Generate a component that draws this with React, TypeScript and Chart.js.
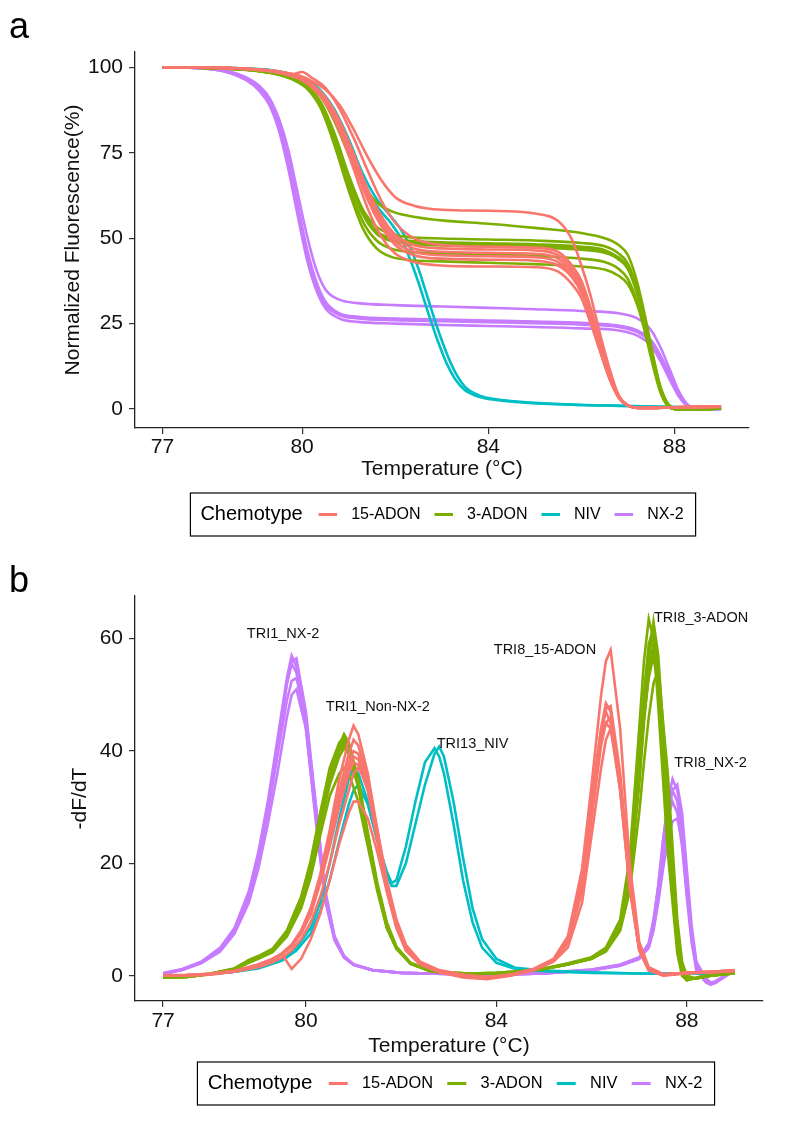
import React, { useEffect, useRef } from "react";
import { Chart, registerables } from "chart.js";

Chart.register(...registerables);

const FONT = "'Liberation Sans', Arial, Helvetica, sans-serif";

const CHEMOTYPES = ["15-ADON", "3-ADON", "NIV", "NX-2"];
const COLORS = ["#F8766D", "#7CAE00", "#00BFC4", "#C77CFF"];

const X_TICKS = [77, 80, 84, 88];
const Y_TICKS_A = [0, 25, 50, 75, 100];
const Y_TICKS_B = [0, 20, 40, 60];

// ---------- Panel a: normalized fluorescence (%) ----------
const A_T_15ADON = [77.0, 78.0, 78.8, 79.4, 79.8, 80.0, 80.2, 80.5, 80.8, 81.1, 81.4, 81.7, 82.0, 82.4, 83.0, 84.0, 85.0, 85.5, 85.8, 86.0, 86.2, 86.4, 86.6, 86.8, 87.0, 87.3, 88.0, 89.0];
const A_15ADON_1 = [100, 99.9, 99.6, 99, 98, 97.3, 96, 93.5, 89, 82, 74, 67, 62, 59.5, 58.3, 58, 57.2, 55, 49.5, 42, 33, 22, 12, 4, 1, 0.3, 0.5, 0.8];
const A_15ADON_2 = [100, 99.9, 99.5, 98.7, 97.3, 96.2, 94.2, 89.5, 81.5, 70.5, 59, 50.5, 45.5, 43, 42, 41.7, 41.5, 40.2, 36.5, 32.5, 25, 17, 9, 3.5, 1, 0.3, 0.5, 0.7];
const A_15ADON_3 = [100, 99.9, 99.5, 98.8, 97.6, 96.8, 95.2, 91.3, 84.5, 75, 64.5, 56.5, 51, 48, 47, 46.7, 46.4, 45, 41, 36.5, 28.5, 19, 10, 3.8, 1.1, 0.3, 0.5, 0.7];
const A_15ADON_4 = [100, 99.9, 99.5, 98.8, 97.6, 96.7, 95, 91, 84, 74, 63.5, 55.5, 50, 47, 46, 45.7, 45.4, 44, 40, 35.5, 27.5, 18.5, 9.8, 3.6, 1, 0.3, 0.5, 0.7];
const A_15ADON_5 = [100, 99.9, 99.5, 98.7, 97.5, 96.5, 94.8, 90.6, 83.3, 73, 62.5, 54.5, 49, 46, 45, 44.7, 44.4, 43, 39, 34.5, 26.5, 17.5, 9.2, 3.4, 1, 0.3, 0.5, 0.7];
const A_15ADON_6 = [100, 99.9, 99.5, 98.7, 97.4, 96.4, 94.6, 90.2, 82.7, 72.3, 61.5, 53.5, 48, 45, 44, 43.7, 43.4, 42, 38.5, 34, 26, 17, 9, 3.3, 1, 0.3, 0.5, 0.7];
const A_15ADON_7 = [100, 99.9, 99.6, 99, 98, 98.6, 97, 94, 88, 79.5, 70, 61, 54.5, 50, 48, 47.5, 47.2, 46, 42, 37.5, 29.5, 20, 10.5, 4, 1.1, 0.3, 0.5, 0.7];

const A_T_3ADON = [77.0, 78.0, 78.8, 79.4, 79.8, 80.1, 80.4, 80.7, 81.0, 81.3, 81.6, 81.9, 82.3, 83.0, 84.0, 85.0, 86.0, 86.5, 86.8, 87.0, 87.2, 87.4, 87.55, 87.7, 87.85, 88.0, 88.3, 89.0];
const A_3ADON_1 = [100, 99.8, 99.4, 98.6, 97.3, 95.5, 91.5, 84, 74.5, 66, 60.5, 58, 56.5, 55.2, 54.2, 53, 51.5, 50, 48, 45, 37, 25, 15, 6, 1.2, 0, -0.2, 0.2];
const A_3ADON_2 = [100, 99.8, 99.3, 98.3, 96.8, 94.6, 89.8, 80.5, 68.5, 58.5, 53.3, 51.2, 50.3, 49.9, 49.6, 49.3, 48.6, 47.6, 45.5, 42.5, 35, 23.5, 14, 5.5, 1.2, 0, -0.2, 0.2];
const A_3ADON_3 = [100, 99.8, 99.3, 98.2, 96.6, 94.2, 89, 79.3, 67.3, 57.5, 52, 50, 49.2, 48.8, 48.5, 48.2, 47.5, 46.5, 44.3, 41.5, 34, 23, 13.5, 5.5, 1, 0, -0.2, 0.2];
const A_3ADON_4 = [100, 99.8, 99.3, 98.3, 96.7, 94.4, 89.3, 79.8, 67.8, 57.6, 51.9, 49.7, 48.8, 48.4, 48.1, 47.8, 47.1, 46.1, 44, 41, 33.5, 22.5, 13, 5, 1, 0, -0.2, 0.2];
const A_3ADON_5 = [100, 99.8, 99.3, 98.2, 96.6, 94.3, 89.2, 79.5, 67.3, 57, 51.3, 49.2, 48.3, 47.9, 47.6, 47.3, 46.6, 45.7, 43.8, 41, 34, 23.5, 14.5, 6.5, 1.8, 0.2, -0.2, 0.2];
const A_3ADON_6 = [100, 99.8, 99.3, 98.2, 96.5, 94, 88.5, 78, 65.5, 55, 49.3, 47, 46, 45.6, 45.2, 44.8, 44, 43, 41, 38, 31, 20.5, 12, 4.8, 1, 0, -0.2, 0.2];
const A_3ADON_7 = [100, 99.8, 99.2, 98.1, 96.4, 93.8, 88, 77, 64, 53, 47, 44.6, 43.6, 43.2, 42.8, 42.4, 41.7, 40.8, 39, 36.5, 30.5, 21.5, 13.5, 6, 1.5, 0, -0.2, 0.2];

const A_T_NIV = [77.0, 78.0, 78.8, 79.4, 79.8, 80.1, 80.4, 80.7, 81.0, 81.3, 81.6, 81.9, 82.1, 82.3, 82.5, 82.7, 82.9, 83.1, 83.3, 83.5, 83.8, 84.2, 85.0, 86.0, 87.0, 88.0, 89.0];
const A_NIV_1 = [100, 99.9, 99.6, 99, 97.8, 96, 92.5, 86, 76.5, 66.5, 59.5, 54.5, 50.5, 44.5, 37, 28.5, 20.5, 13.5, 8.5, 5.5, 3.6, 2.6, 1.7, 1.2, 0.9, 0.6, 0.4];
const A_NIV_2 = [100, 99.9, 99.6, 99, 97.9, 96.3, 93.2, 87.5, 79, 69, 61.5, 56.5, 53, 48, 41, 32.5, 24, 16.5, 10.5, 6.5, 4, 2.8, 1.8, 1.2, 0.9, 0.6, 0.4];

const A_T_NX2 = [77.0, 77.5, 78.0, 78.4, 78.8, 79.1, 79.3, 79.5, 79.7, 79.9, 80.1, 80.3, 80.5, 80.8, 81.2, 82.0, 83.0, 84.0, 85.0, 86.0, 86.8, 87.2, 87.5, 87.7, 87.9, 88.1, 88.3, 88.6, 89.0];
const A_NX2_1 = [100, 99.9, 99.5, 98.6, 96.5, 93.3, 89.5, 82.5, 72, 58.5, 45.5, 36, 30.5, 27.5, 26.5, 26, 25.7, 25.4, 25.1, 24.7, 24, 22.5, 19.5, 15, 9.5, 4, 0.8, 0, 0];
const A_NX2_2 = [100, 99.9, 99.5, 98.5, 96.2, 92.8, 88.8, 81.5, 70.5, 57, 44, 35, 29.5, 26.5, 25.5, 25, 24.6, 24.3, 24, 23.6, 23, 21.5, 18.5, 14, 8.5, 3.5, 0.7, 0, 0];
const A_NX2_3 = [100, 99.9, 99.6, 98.8, 96.8, 93.8, 90.2, 83.5, 73.5, 60, 47, 37.5, 31.5, 28, 27, 26.5, 26.2, 25.9, 25.6, 25.2, 24.4, 23, 20, 15.5, 10, 4.5, 1, 0, 0];
const A_NX2_4 = [100, 99.9, 99.6, 98.7, 96.6, 93.6, 89.9, 83, 72.8, 59.5, 46.5, 37, 31, 27.8, 26.8, 26.3, 26, 25.7, 25.4, 25, 24.3, 22.8, 20, 15.5, 10, 4.5, 1, 0.1, 0];
const A_NX2_5 = [100, 99.9, 99.6, 98.9, 97, 94.3, 91, 85, 76, 63.5, 51, 41, 35, 32, 31, 30.4, 30, 29.6, 29.2, 28.7, 28, 26.5, 23, 18, 11.5, 5, 1, 0.1, 0];

// ---------- Panel b: -dF/dT ----------
const B_T_15ADON = [77.0, 77.5, 78.0, 78.5, 79.0, 79.3, 79.5, 79.7, 79.9, 80.1, 80.3, 80.5, 80.7, 80.9, 81.0, 81.1, 81.3, 81.5, 81.7, 81.9, 82.1, 82.4, 82.8, 83.3, 83.8, 84.3, 84.8, 85.2, 85.5, 85.8, 86.0, 86.2, 86.3, 86.4, 86.6, 86.8, 87.0, 87.2, 87.5, 88.0, 88.5, 89.0];
const B_15ADON_1 = [0, 0.1, 0.3, 0.7, 1.5, 2.4, 3.2, 4.5, 6.5, 9.5, 14, 20, 27, 33, 36, 37, 34, 26, 17, 10, 5.5, 2.5, 1, 0.2, -0.3, 0.2, 1.3, 3, 7, 19, 34, 50, 56, 58, 44, 20, 6, 1.5, 0.3, 0.5, 0.7, 0.9];
const B_15ADON_2 = [0, 0.1, 0.3, 0.8, 2, 3, 4, 5.5, 8, 12, 18, 26, 35, 42, 44.5, 43, 36, 26, 16, 9, 4.5, 2, 0.6, -0.3, -0.6, 0, 1, 2.5, 5, 13, 25, 37, 42, 44, 35, 17, 5, 1, 0, 0.4, 0.6, 0.8];
const B_15ADON_3 = [0, 0, 0.2, 0.7, 1.8, 2.8, 3.8, 5.2, 7.5, 11, 17, 25, 33, 39.5, 42, 41, 35, 25.5, 16, 9, 4.8, 2.1, 0.8, 0, -0.4, 0.1, 1.1, 2.7, 6, 16, 30, 44, 48.5, 47, 34, 16, 4.5, 1, 0.2, 0.5, 0.6, 0.9];
const B_15ADON_4 = [0.1, 0.1, 0.3, 0.8, 1.9, 2.9, 3.9, 5.4, 7.8, 11.5, 17, 24, 31.5, 38, 40, 39.5, 34, 25, 16, 9, 4.8, 2.2, 0.9, 0.1, -0.3, 0.2, 1.2, 2.8, 6.2, 17, 31, 43, 47.5, 48, 36, 17, 5, 1.2, 0.2, 0.5, 0.7, 0.9];
const B_15ADON_5 = [0, 0.1, 0.4, 0.9, 2, 3, 4, 5.5, 8, 12, 17.5, 24.5, 31, 37, 39, 38.5, 33, 24, 15, 8.5, 4.5, 2, 0.8, 0, -0.4, 0.1, 1.2, 2.9, 6.5, 18, 32, 44, 47, 45, 33, 15.5, 4.5, 1, 0.1, 0.5, 0.7, 0.8];
const B_15ADON_6 = [0, 0, 0.3, 0.8, 1.9, 2.9, 3.9, 5.3, 7.6, 11, 16.5, 23, 30, 36, 38, 37.5, 33, 25, 16, 9, 4.8, 2.1, 0.8, 0, -0.3, 0.1, 1.1, 2.6, 5.8, 15, 28, 41, 45, 46, 35, 17, 5, 1.2, 0.2, 0.5, 0.7, 1];
const B_15ADON_7 = [0, 0.1, 0.3, 0.8, 1.9, 3, 3.8, 1.2, 3, 6.5, 11, 17, 23.5, 29, 31, 31, 28, 22, 15, 9, 4.8, 2.1, 0.8, 0, -0.3, 0.1, 1.2, 2.8, 6, 16, 30, 42, 45, 44, 33, 16, 4.8, 1, 0.1, 0.5, 0.7, 0.9];

const B_T_3ADON = [77.0, 77.5, 78.0, 78.5, 78.8, 79.0, 79.3, 79.6, 79.9, 80.1, 80.3, 80.5, 80.7, 80.8, 80.9, 81.1, 81.3, 81.5, 81.7, 81.9, 82.2, 82.6, 83.0, 83.5, 84.0, 84.5, 85.0, 85.5, 86.0, 86.3, 86.6, 86.8, 87.0, 87.1, 87.2, 87.3, 87.4, 87.6, 87.8, 87.9, 88.0, 88.2, 88.5, 89.0];
const B_3ADON_1 = [-0.3, -0.2, 0.3, 1.1, 2.3, 3, 4.2, 7, 12, 17.5, 25, 32, 36, 37, 36, 31, 23, 15, 8.5, 4.8, 2.1, 0.9, 0.5, 0.4, 0.5, 0.8, 1.3, 2.2, 3.3, 5, 10, 21, 44, 56, 63.5, 60, 48, 22, 4, 0, -0.8, -0.3, 0.1, 0.5];
const B_3ADON_2 = [-0.3, -0.2, 0.3, 1.2, 2.5, 3.2, 4.5, 7.5, 13, 19, 27, 35, 40, 41, 40, 34, 25, 16, 9, 5, 2.2, 0.9, 0.5, 0.4, 0.4, 0.7, 1.2, 2, 3, 4.5, 8.5, 17, 35, 46, 56, 63, 57, 32, 8, 1.5, -0.5, -0.5, 0, 0.5];
const B_3ADON_3 = [-0.2, -0.1, 0.4, 1.3, 2.8, 3.5, 4.8, 8, 14, 20, 28, 36, 41, 42, 40.5, 34, 24, 15.5, 8.5, 4.8, 2.1, 0.8, 0.4, 0.3, 0.4, 0.7, 1.2, 2, 3.1, 4.6, 9, 18, 38, 50, 59, 62, 54, 28, 6, 0.5, -0.8, -0.4, 0, 0.4];
const B_3ADON_4 = [-0.3, -0.2, 0.3, 1.2, 2.6, 3.3, 4.6, 7.8, 13.5, 19.5, 27.5, 35.5, 40.5, 41.5, 40.5, 34.5, 25, 16, 9, 5, 2.2, 0.9, 0.5, 0.4, 0.5, 0.8, 1.3, 2.1, 3.2, 4.8, 9.5, 19, 39, 50, 58, 60.5, 53, 28, 6, 0.8, -0.6, -0.4, 0, 0.5];
const B_3ADON_5 = [-0.3, -0.2, 0.3, 1.1, 2.4, 3.1, 4.4, 7.4, 12.8, 18.5, 26.5, 34, 39, 40.5, 39.5, 33.5, 24.5, 16, 9, 5, 2.2, 0.9, 0.5, 0.4, 0.4, 0.7, 1.2, 2, 3, 4.4, 8.5, 17, 34, 45, 54, 59, 55, 32, 9, 2, -0.3, -0.5, 0, 0.5];
const B_3ADON_6 = [-0.2, -0.1, 0.4, 1.3, 2.7, 3.4, 4.7, 8, 14, 20.5, 29, 37, 41.5, 42.5, 41, 34.5, 25, 16, 9, 5, 2.2, 0.9, 0.5, 0.4, 0.5, 0.8, 1.3, 2.1, 3.2, 4.7, 9, 18, 36, 46, 53, 57, 51, 27, 6, 0.6, -0.7, -0.4, 0, 0.5];
const B_3ADON_7 = [-0.3, -0.2, 0.3, 1.2, 2.5, 3.2, 4.5, 7.6, 13.2, 19.5, 28, 36, 41, 43, 41.5, 35, 25.5, 16.5, 9.5, 5.2, 2.3, 1, 0.5, 0.4, 0.4, 0.7, 1.2, 2, 3, 4.3, 8, 15, 29, 38, 46, 52, 54.5, 36, 10, 2.5, 0, -0.5, 0, 0.5];

const B_T_NIV = [77.0, 77.5, 78.0, 78.5, 79.0, 79.5, 79.8, 80.1, 80.3, 80.5, 80.7, 80.9, 81.0, 81.1, 81.3, 81.5, 81.7, 81.8, 81.9, 82.1, 82.3, 82.5, 82.7, 82.8, 82.9, 83.1, 83.3, 83.5, 83.7, 84.0, 84.4, 85.0, 86.0, 87.0, 88.0, 89.0];
const B_NIV_1 = [-0.2, 0, 0.3, 0.7, 1.4, 3, 5, 8.5, 13, 20, 28, 35, 37, 36, 31, 24, 18.5, 16.5, 17, 23, 31, 38, 40.5, 39, 36, 27, 17, 9.5, 5, 2.3, 1.2, 0.8, 0.5, 0.4, 0.4, 0.4];
const B_NIV_2 = [-0.2, 0, 0.3, 0.7, 1.3, 2.7, 4.5, 7.5, 11.5, 17, 24, 30.5, 33, 34, 30.5, 24, 18, 16, 16, 20, 27, 34, 39.5, 40.8, 39, 31, 21, 12, 6.5, 3, 1.4, 0.9, 0.6, 0.4, 0.4, 0.4];

const B_T_NX2 = [77.0, 77.4, 77.8, 78.2, 78.5, 78.8, 79.0, 79.2, 79.4, 79.6, 79.7, 79.8, 80.0, 80.2, 80.4, 80.6, 80.8, 81.0, 81.4, 82.0, 83.0, 84.0, 85.0, 86.0, 86.6, 87.0, 87.2, 87.3, 87.4, 87.5, 87.6, 87.7, 87.8, 87.9, 88.0, 88.1, 88.2, 88.4, 88.5, 88.6, 88.8, 89.0];
const B_NX2_1 = [0.5, 1.2, 2.5, 5, 8.5, 15, 22, 31, 42, 53, 57, 55, 45, 29, 14, 6.5, 3.3, 2, 1, 0.5, 0.3, 0.2, 0.4, 1, 1.8, 3, 5, 8, 13, 19, 24, 27.5, 28, 24, 15, 7, 1.5, -1, -1.5, -1.3, 0, 1];
const B_NX2_2 = [0.4, 1.1, 2.4, 4.8, 8.2, 14.5, 21, 30, 41, 52, 56, 56.5, 47, 31, 15, 7, 3.5, 2, 1, 0.5, 0.3, 0.2, 0.4, 1, 1.8, 3, 5.5, 9, 15, 22, 28, 31, 29, 23, 14, 6, 1, -1.2, -1.6, -1.2, 0, 1];
const B_NX2_3 = [0.3, 1, 2.3, 4.6, 8, 14, 21, 30, 41, 52, 55.5, 54, 44, 28, 13.5, 6.3, 3.2, 1.9, 1, 0.5, 0.3, 0.2, 0.4, 1.1, 1.9, 3.2, 5.8, 10, 16, 24, 30, 33, 31, 25, 15, 7, 1.5, -0.8, -1.3, -1, 0.1, 1];
const B_NX2_4 = [0.4, 1.1, 2.4, 4.7, 8, 14, 20.5, 29, 39, 49, 52.5, 53, 46, 31, 15.5, 7, 3.5, 2, 1, 0.5, 0.3, 0.2, 0.4, 1, 1.8, 3.1, 5, 8.5, 14, 21, 28, 33, 34, 29, 19, 9, 2.5, -0.5, -1.2, -1.3, -0.2, 0.9];
const B_NX2_5 = [0.3, 1, 2.2, 4.3, 7.5, 13, 19, 27, 36, 46, 50, 51, 44, 29, 14.5, 6.8, 3.4, 2, 1, 0.5, 0.3, 0.3, 0.5, 1.1, 2, 3.3, 5.5, 9.5, 16, 24, 31, 35, 33, 27, 17, 8, 2, -0.6, -1.2, -1.1, 0, 1];

// Peak labels in panel b (text, temperature, -dF/dT)
const ANN_TEXT = ["TRI1_NX-2", "TRI1_Non-NX-2", "TRI13_NIV", "TRI8_15-ADON", "TRI8_3-ADON", "TRI8_NX-2"];
const ANN_X = [79.52, 81.51, 83.5, 85.02, 88.3, 88.5];
const ANN_Y = [60.8, 47.8, 41.3, 57.9, 63.6, 37.8];

function makeSeries(temps: number[], rows: number[][], color: string, label: string, smooth: boolean) {
  return rows.map((ys, i) => ({
    label: `${label} #${i + 1}`,
    data: temps.map((t, j) => ({ x: t, y: ys[j] })),
    borderColor: color,
    backgroundColor: color,
    borderWidth: 2.6,
    pointRadius: 0,
    fill: false,
    tension: 0,
    cubicInterpolationMode: smooth ? "monotone" : "default",
  }));
}

const decorPlugin = {
  id: "decor",
  afterDraw(chart: any, _args: any, o: any) {
    const ctx = chart.ctx as CanvasRenderingContext2D;
    const k = o.k;
    ctx.save();
    // panel letter
    ctx.fillStyle = "#000";
    ctx.font = `${o.letterSize}px ${FONT}`;
    ctx.textAlign = "left";
    ctx.textBaseline = "alphabetic";
    ctx.fillText(o.letter, o.letterX, o.letterY);

    // peak annotations
    if (o.annotate) {
      ctx.font = `${14.5}px ${FONT}`;
      ctx.textAlign = "center";
      ctx.textBaseline = "middle";
      ctx.fillStyle = "#111";
      ANN_TEXT.forEach((t, i) => {
        const px = chart.scales.x.getPixelForValue(ANN_X[i]);
        const py = chart.scales.y.getPixelForValue(ANN_Y[i]);
        ctx.fillText(t, px, py);
      });
    }

    // legend
    const titleFont = `${20 * k}px ${FONT}`;
    const itemFont = `${16 * k}px ${FONT}`;
    ctx.font = titleFont;
    const titleW = ctx.measureText("Chemotype").width;
    ctx.font = itemFont;
    const labelWs = CHEMOTYPES.map((c) => ctx.measureText(c).width);
    const padL = 10 * k, padR = 12 * k, gapTitle = 16 * k, sw = 18.5 * k, gapSw = 14 * k, gapItem = 14 * k;
    const n = CHEMOTYPES.length;
    const total = padL + titleW + gapTitle + n * (sw + gapSw) + labelWs.reduce((a, b) => a + b, 0) + (n - 1) * gapItem + padR;
    const left = o.legendCx - total / 2;
    const top = o.legendTop;
    const h = o.legendH;
    ctx.strokeStyle = "#000";
    ctx.lineWidth = 1.2;
    ctx.strokeRect(left, top, total, h);
    const cy = top + h / 2;
    let x = left + padL;
    ctx.fillStyle = "#000";
    ctx.textAlign = "left";
    ctx.textBaseline = "middle";
    ctx.font = titleFont;
    ctx.fillText("Chemotype", x, cy);
    x += titleW + gapTitle;
    ctx.font = itemFont;
    CHEMOTYPES.forEach((c, i) => {
      ctx.strokeStyle = COLORS[i];
      ctx.lineWidth = 3 * k;
      ctx.beginPath();
      ctx.moveTo(x, cy);
      ctx.lineTo(x + sw, cy);
      ctx.stroke();
      x += sw + gapSw;
      ctx.fillText(c, x, cy);
      x += labelWs[i] + gapItem;
    });
    ctx.restore();
  },
};

function makeConfig(p: any) {
  const tickFont = { family: FONT, size: 21 };
  const titleFont = { family: FONT, size: 21 };
  return {
    type: "line",
    data: { datasets: p.datasets },
    options: {
      responsive: false,
      animation: false,
      events: [],
      layout: { padding: { left: p.padLeft, top: p.padTop, right: p.padRight, bottom: p.padBottom } },
      plugins: {
        legend: { display: false },
        tooltip: { enabled: false },
        decor: p.decor,
      },
      scales: {
        x: {
          type: "linear",
          min: 76.41,
          max: 89.6,
          afterBuildTicks: (s: any) => {
            s.ticks = X_TICKS.map((v) => ({ value: v }));
          },
          afterFit: (s: any) => {
            s.height = p.xHeight;
          },
          ticks: {
            font: tickFont,
            color: "#111",
            padding: p.xTickPad,
            autoSkip: false,
            maxRotation: 0,
            callback: (v: any) => String(v),
          },
          grid: { drawOnChartArea: false, drawTicks: true, tickLength: 6, color: "#333", lineWidth: 1.2 },
          border: { display: true, color: "#222", width: 1.3 },
          title: { display: true, text: "Temperature (°C)", font: titleFont, color: "#111", padding: 0 },
        },
        y: {
          type: "linear",
          min: p.yMin,
          max: p.yMax,
          afterBuildTicks: (s: any) => {
            s.ticks = p.yTicks.map((v: number) => ({ value: v }));
          },
          afterFit: (s: any) => {
            s.width = p.yWidth;
          },
          ticks: {
            font: tickFont,
            color: "#111",
            padding: 6,
            autoSkip: false,
            callback: (v: any) => String(v),
          },
          grid: { drawOnChartArea: false, drawTicks: true, tickLength: 6, color: "#333", lineWidth: 1.2 },
          border: { display: true, color: "#222", width: 1.3 },
          title: { display: true, text: p.yTitle, font: titleFont, color: "#111", padding: 0 },
        },
      },
    },
    plugins: [decorPlugin],
  };
}

export default function App() {
  const refA = useRef<HTMLCanvasElement>(null);
  const refB = useRef<HTMLCanvasElement>(null);

  useEffect(() => {
    const dsA = [
      ...makeSeries(A_T_15ADON, [A_15ADON_1, A_15ADON_2, A_15ADON_3, A_15ADON_4, A_15ADON_5, A_15ADON_6, A_15ADON_7], COLORS[0], CHEMOTYPES[0], true),
      ...makeSeries(A_T_3ADON, [A_3ADON_1, A_3ADON_2, A_3ADON_3, A_3ADON_4, A_3ADON_5, A_3ADON_6, A_3ADON_7], COLORS[1], CHEMOTYPES[1], true),
      ...makeSeries(A_T_NIV, [A_NIV_1, A_NIV_2], COLORS[2], CHEMOTYPES[2], true),
      ...makeSeries(A_T_NX2, [A_NX2_1, A_NX2_2, A_NX2_3, A_NX2_4, A_NX2_5], COLORS[3], CHEMOTYPES[3], true),
    ];
    const dsB = [
      ...makeSeries(B_T_15ADON, [B_15ADON_1, B_15ADON_2, B_15ADON_3, B_15ADON_4, B_15ADON_5, B_15ADON_6, B_15ADON_7], COLORS[0], CHEMOTYPES[0], false),
      ...makeSeries(B_T_3ADON, [B_3ADON_1, B_3ADON_2, B_3ADON_3, B_3ADON_4, B_3ADON_5, B_3ADON_6, B_3ADON_7], COLORS[1], CHEMOTYPES[1], false),
      ...makeSeries(B_T_NIV, [B_NIV_1, B_NIV_2], COLORS[2], CHEMOTYPES[2], false),
      ...makeSeries(B_T_NX2, [B_NX2_1, B_NX2_2, B_NX2_3, B_NX2_4, B_NX2_5], COLORS[3], CHEMOTYPES[3], false),
    ];

    const cfgA = makeConfig({
      datasets: dsA,
      padLeft: 60.4,
      yWidth: 74.6,
      padTop: 52,
      padRight: 38,
      xHeight: 53.6,
      padBottom: 78.4,
      xTickPad: 0.5,
      yMin: -5.55,
      yMax: 104.47,
      yTicks: Y_TICKS_A,
      yTitle: "Normalized Fluorescence(%)",
      decor: { k: 1, letter: "a", letterX: 9, letterY: 38, letterSize: 36, annotate: false, legendCx: 443, legendTop: 493, legendH: 43 },
    });
    const cfgB = makeConfig({
      datasets: dsB,
      padLeft: 67.4,
      yWidth: 67.6,
      padTop: 36,
      padRight: 24,
      xHeight: 57.6,
      padBottom: 72.4,
      xTickPad: 1.4,
      yMin: -4.5,
      yMax: 67.6,
      yTicks: Y_TICKS_B,
      yTitle: "-dF/dT",
      decor: { k: 1.024, letter: "b", letterX: 9, letterY: 32, letterSize: 36, annotate: true, legendCx: 456, legendTop: 502, legendH: 43 },
    });
    const a = new Chart(refA.current as HTMLCanvasElement, cfgA as any);
    const b = new Chart(refB.current as HTMLCanvasElement, cfgB as any);
    return () => {
      a.destroy();
      b.destroy();
    };
  }, []);

  return (
    <div style={{ position: "absolute", left: 0, top: 0, width: 787, height: 1131, background: "#fff" }}>
      <canvas ref={refA} width={787} height={560} style={{ position: "absolute", left: 0, top: 0, width: 787, height: 560 }} />
      <canvas ref={refB} width={787} height={571} style={{ position: "absolute", left: 0, top: 560, width: 787, height: 571 }} />
    </div>
  );
}
